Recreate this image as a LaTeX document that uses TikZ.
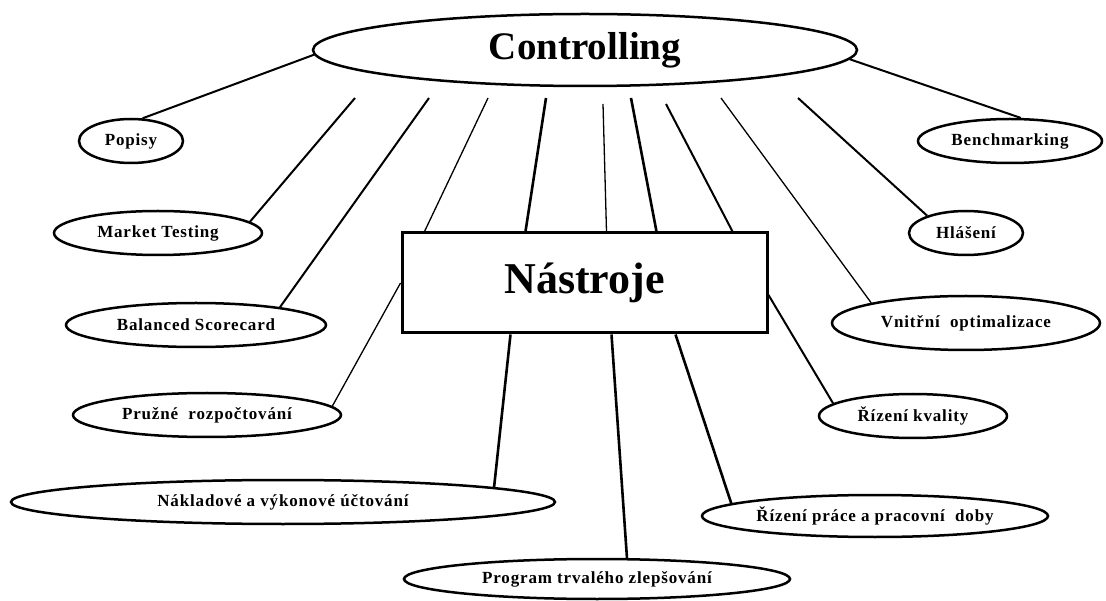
\documentclass[tikz,border=0pt]{standalone}
\usepackage{fontspec}
\setmainfont{Liberation Serif}
\newfontfamily\lblfont{Liberation Serif}[LetterSpace=5]
\usetikzlibrary{shapes.geometric}

\begin{document}
\begin{tikzpicture}[x=1pt,y=-1pt,
  bubble/.style={ellipse, draw, line width=2.5pt, inner sep=0pt,
    font=\lblfont\bfseries\fontsize{17}{20}\selectfont},
  heavy/.style={line width=2.6pt},
  medium/.style={line width=2pt},
  light/.style={line width=1.3pt}]
\useasboundingbox (0,0) rectangle (1106,601);

% central nodes
\node[bubble, minimum width=544pt, minimum height=72pt,
      font=\bfseries\fontsize{39}{44}\selectfont] (ctrl) at (585,50) {Controlling};
\node[draw, line width=3pt, minimum width=365pt, minimum height=100pt, inner sep=0pt,
      font=\bfseries\fontsize{44}{50}\selectfont] (tools) at (584.5,283) {Nástroje};

% instruments
\node[bubble, minimum width=104pt, minimum height=44pt] (popisy) at (131,141) {Popisy};
\node[bubble, minimum width=208pt, minimum height=44pt] (market) at (158,233) {Market Testing};
\node[bubble, minimum width=260pt, minimum height=44pt] (bsc) at (196,325) {Balanced Scorecard};
\node[bubble, minimum width=268pt, minimum height=44pt] (pruzne) at (207,415) {Pružné\ \ rozpočtování};
\node[bubble, minimum width=544pt, minimum height=44pt] (naklady) at (283,502) {Nákladové a výkonové účtování};
\node[bubble, minimum width=386pt, minimum height=40pt] (program) at (597,579) {Program trvalého zlepšování};
\node[bubble, minimum width=346pt, minimum height=42pt] (prace) at (875,516) {Řízení práce a pracovní\ \ doby};
\node[bubble, minimum width=188pt, minimum height=44pt] (kvalita) at (913,416) {Řízení kvality};
\node[bubble, minimum width=268pt, minimum height=54pt] (vnitrni) at (966,323) {Vnitřní\ \ optimalizace};
\node[bubble, minimum width=114pt, minimum height=44pt] (hlaseni) at (966,233) {Hlášení};
\node[bubble, minimum width=184pt, minimum height=44pt] (bench) at (1010,141) {Benchmarking};

% free upper ends of the spokes below Controlling
\coordinate (s1) at (355,98);
\coordinate (s2) at (429,98);
\coordinate (s3) at (488,98);
\coordinate (s4) at (546,98);
\coordinate (s5) at (603,104);
\coordinate (s6) at (631,98);
\coordinate (s7) at (666,104);
\coordinate (s8) at (721,98);
\coordinate (s9) at (798,98);

% spokes
\draw[medium] (ctrl.181.5) -- (popisy.63);
\draw[medium] (ctrl.358) -- (bench.65.6);
\draw[medium] (s1) -- (market.7.9);
\draw[medium] (s2) -- (bsc.12.3);
\draw[light]  (s3) -- ([xshift=24pt]tools.north west);
\draw[heavy]  (s4) -- ([xshift=125pt]tools.north west);
\draw[light]  (s5) -- ([xshift=206pt]tools.north west);
\draw[heavy]  (s6) -- ([xshift=256pt]tools.north west);
\draw[medium] (s7) -- ([xshift=332pt]tools.north west);
\draw[light]  (s8) -- (vnitrni.168.6);
\draw[medium] (s9) -- (hlaseni.156.4);

\draw[light]  (tools.west) -- (pruzne.4.9);
\draw[heavy]  ([xshift=110pt]tools.south west) -- (naklady.4.9);
\draw[heavy]  ([xshift=211pt]tools.south west) -- (program.35);
\draw[heavy]  ([xshift=275pt]tools.south west) -- (prace.175.5);
\draw[medium] ([yshift=-12pt]tools.east) -- (kvalita.171.5);
\end{tikzpicture}
\end{document}
